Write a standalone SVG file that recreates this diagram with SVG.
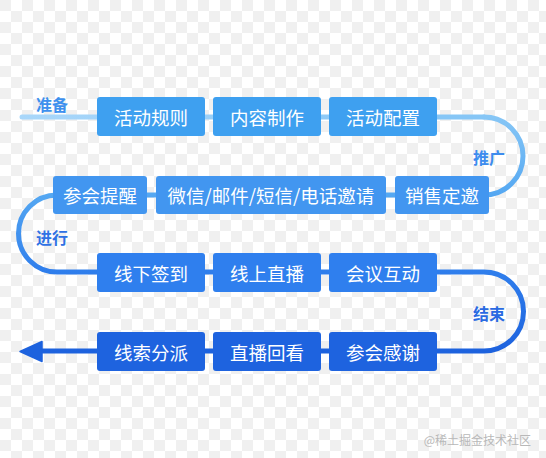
<svg xmlns="http://www.w3.org/2000/svg" width="546" height="458" viewBox="0 0 546 458">
<style>
.box text{fill:#fff;font-family:"Noto Sans CJK SC","Noto Sans",sans-serif;font-size:18.5px;text-anchor:middle;dominant-baseline:central}
.lbl{font-family:"Noto Sans CJK SC","Noto Sans",sans-serif;font-size:16px;font-weight:bold;text-anchor:middle;dominant-baseline:central}
.r1{fill:#3ea0f0}.r2{fill:#4296f0}.r3{fill:#2f7fee}.r4{fill:#1e63df}
</style>
<defs>
<pattern id="chk" width="22" height="22" patternUnits="userSpaceOnUse">
<rect width="22" height="22" fill="#ffffff"/>
<rect width="11" height="11" fill="#f0f0f0"/>
<rect x="11" y="11" width="11" height="11" fill="#f0f0f0"/>
</pattern>
<linearGradient id="vg" gradientUnits="userSpaceOnUse" x1="0" y1="117" x2="0" y2="351">
<stop offset="0" stop-color="#86c6f6"/>
<stop offset="0.33" stop-color="#55a8f2"/>
<stop offset="0.66" stop-color="#2f7eec"/>
<stop offset="1" stop-color="#1d62de"/>
</linearGradient>
<linearGradient id="hg" gradientUnits="userSpaceOnUse" x1="20" y1="0" x2="440" y2="0">
<stop offset="0" stop-color="#a9d7fa"/>
<stop offset="1" stop-color="#86c6f6"/>
</linearGradient>
</defs>
<rect width="546" height="458" fill="url(#chk)"/>
<g id="connectors" fill="none" stroke-width="5" stroke-linecap="round">
<path d="M22,117 H484" stroke="url(#hg)"/>
<path d="M484,117 A39,39 0 0 1 484,195 H57 A38.5,38.5 0 0 0 57,272 H484 A39.5,39.5 0 0 1 484,351 H38" stroke="url(#vg)"/>
<polygon points="20,351.5 42,341.5 42,361.5" fill="#1d62de" stroke="#1d62de" stroke-width="1.5" stroke-linejoin="round"/>
</g>
<g id="labels">
<text class="lbl" x="52" y="104" fill="#3d90ee">准备</text>
<text class="lbl" x="489" y="157" fill="#3d8cee">推广</text>
<text class="lbl" x="52" y="237" fill="#2f72e4">进行</text>
<text class="lbl" x="489" y="313" fill="#2a6ae2">结束</text>
</g>
<g id="n1" class="box"><rect class="r1" x="97" y="97" width="108" height="39" rx="3"/><text x="151" y="116.5">活动规则</text></g>
<g id="n2" class="box"><rect class="r1" x="213" y="97" width="108" height="39" rx="3"/><text x="267" y="116.5">内容制作</text></g>
<g id="n3" class="box"><rect class="r1" x="329" y="97" width="108" height="39" rx="3"/><text x="383" y="116.5">活动配置</text></g>
<g id="n4" class="box"><rect class="r2" x="395" y="176" width="94" height="38" rx="3"/><text x="442" y="195">销售定邀</text></g>
<g id="n5" class="box"><rect class="r2" x="156" y="176" width="230" height="38" rx="3"/><text x="271" y="195">微信/邮件/短信/电话邀请</text></g>
<g id="n6" class="box"><rect class="r2" x="53" y="176" width="94" height="38" rx="3"/><text x="100" y="195">参会提醒</text></g>
<g id="n7" class="box"><rect class="r3" x="97" y="253" width="108" height="39" rx="3"/><text x="151" y="272.5">线下签到</text></g>
<g id="n8" class="box"><rect class="r3" x="213" y="253" width="108" height="39" rx="3"/><text x="267" y="272.5">线上直播</text></g>
<g id="n9" class="box"><rect class="r3" x="329" y="253" width="108" height="39" rx="3"/><text x="383" y="272.5">会议互动</text></g>
<g id="n10" class="box"><rect class="r4" x="329" y="332" width="108" height="39" rx="3"/><text x="383" y="351.5">参会感谢</text></g>
<g id="n11" class="box"><rect class="r4" x="213" y="332" width="108" height="39" rx="3"/><text x="267" y="351.5">直播回看</text></g>
<g id="n12" class="box"><rect class="r4" x="97" y="332" width="108" height="39" rx="3"/><text x="151" y="351.5">线索分派</text></g>
<text x="531" y="439" font-family="Noto Sans CJK SC,sans-serif" font-size="12" fill="#b8b8b8" text-anchor="end" dominant-baseline="central">@稀土掘金技术社区</text>
</svg>
